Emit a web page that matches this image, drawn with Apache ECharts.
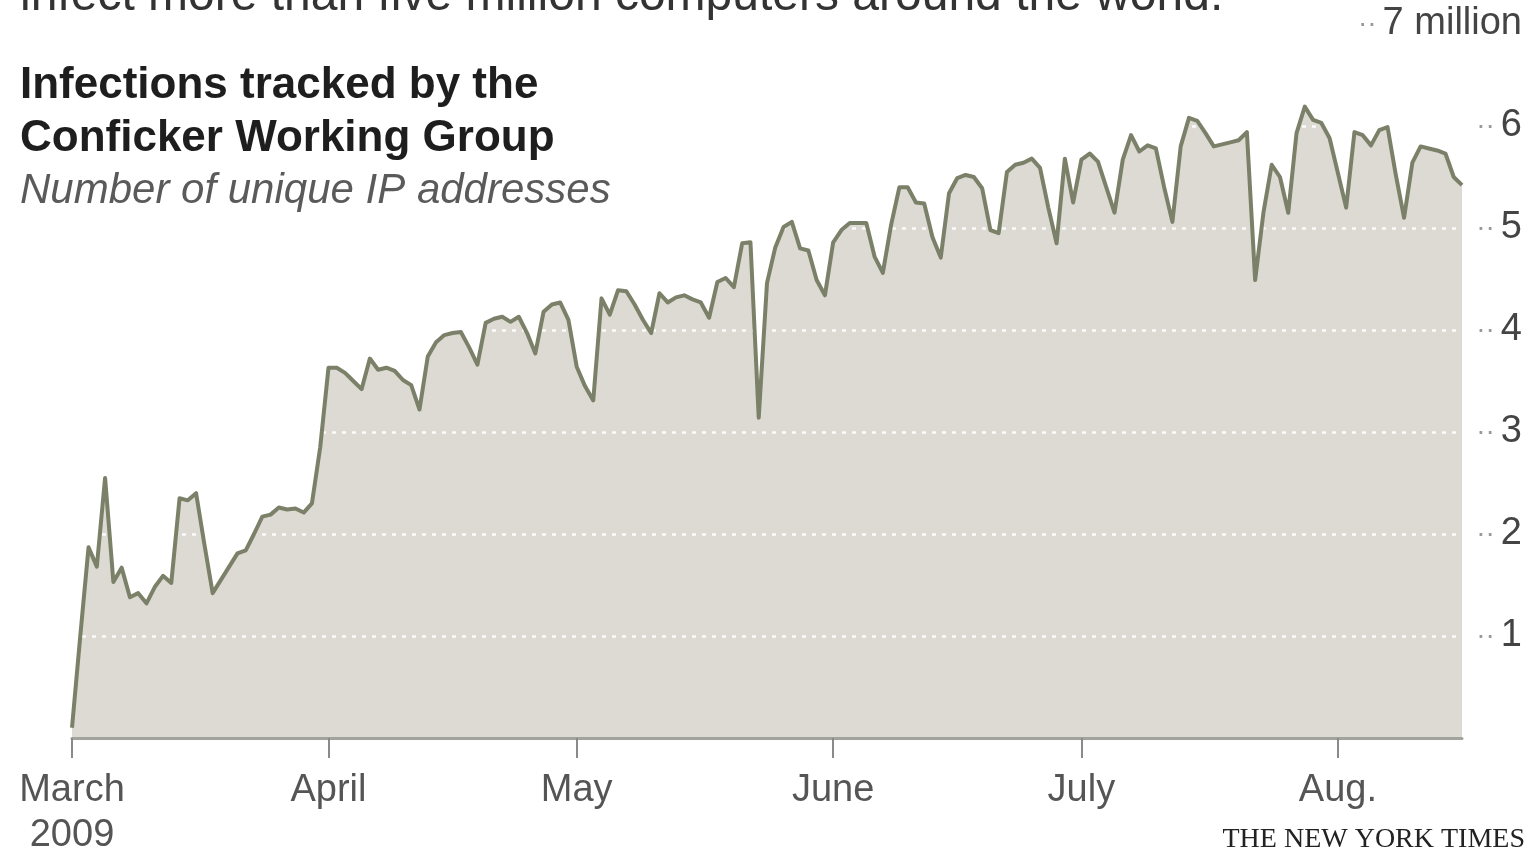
<!DOCTYPE html>
<html><head><meta charset="utf-8">
<script src="https://cdn.jsdelivr.net/npm/echarts@6/dist/echarts.min.js"></script>
<style>html,body{margin:0;padding:0;background:#fff}#c{width:1531px;height:855px}</style>
</head><body><div id="c"></div>
<script>
// Daily infections (millions of unique IP addresses), Mar 1 – Aug 16, 2009
const infections = [
  0.10,1.00,1.87,1.68,2.55,1.53,1.67,1.38,1.42,1.32,
  1.48,1.59,1.52,2.35,2.33,2.40,1.90,1.42,1.55,1.68,
  1.81,1.84,2.00,2.17,2.19,2.26,2.24,2.25,2.21,2.30,
  2.85,3.63,3.63,3.58,3.50,3.42,3.72,3.61,3.63,3.60,
  3.51,3.46,3.22,3.74,3.88,3.95,3.97,3.98,3.83,3.66,
  4.07,4.11,4.13,4.08,4.13,3.97,3.77,4.18,4.25,4.27,
  4.10,3.64,3.45,3.31,4.31,4.15,4.39,4.38,4.25,4.10,
  3.97,4.36,4.27,4.32,4.34,4.30,4.27,4.12,4.47,4.51,
  4.42,4.85,4.86,3.14,4.46,4.81,5.01,5.06,4.80,4.78,
  4.49,4.34,4.86,4.98,5.05,5.05,5.05,4.72,4.56,5.03,
  5.40,5.40,5.25,5.24,4.91,4.71,5.34,5.49,5.52,5.50,
  5.39,4.98,4.95,5.55,5.62,5.64,5.68,5.59,5.20,4.85,
  5.68,5.25,5.67,5.73,5.65,5.40,5.15,5.67,5.91,5.75,
  5.81,5.78,5.40,5.06,5.80,6.08,6.05,5.93,5.80,5.82,
  5.84,5.86,5.94,4.49,5.15,5.62,5.50,5.15,5.93,6.19,
  6.06,6.03,5.88,5.54,5.20,5.94,5.91,5.81,5.96,5.99,
  5.52,5.10,5.64,5.80,5.78,5.76,5.73,5.50,5.42
];
const monthStartDays = [0, 31, 61, 92, 122, 153];
const monthLabels = ['March\n2009', 'April', 'May', 'June', 'July', 'Aug.'];
const yTickLabels = ['', '1', '2', '3', '4', '5', '6', '7 million'];
const titleLines = ['Infections tracked by the', 'Conficker Working Group'];
const subtitle = 'Number of unique IP addresses';
const credit = 'THE NEW YORK TIMES';
const headlineFragment = 'infect more than five million computers around the world.';

const categories = infections.map((_, i) => {
  const d = new Date(2009, 2, 1 + i);
  return (d.getMonth() + 1) + '/' + d.getDate() + '/2009';
});

const FONT = '"Liberation Sans", Arial, Helvetica, sans-serif';
const chart = echarts.init(document.getElementById('c'));
chart.setOption({
  animation: false,
  backgroundColor: '#ffffff',
  grid: { left: 72, right: 69, top: 24, bottom: 117, containLabel: false, outerBoundsMode: 'none' },
  xAxis: {
    type: 'category',
    data: categories,
    boundaryGap: false,
    z: 3,
    axisLine: { show: true, lineStyle: { color: '#a2a29e', width: 3 } },
    axisTick: {
      show: true,
      interval: (idx) => monthStartDays.includes(idx),
      length: 20,
      lineStyle: { color: '#8a8a88', width: 2 }
    },
    axisLabel: {
      interval: (idx) => monthStartDays.includes(idx),
      formatter: (v, idx) => {
        const k = monthStartDays.indexOf(idx);
        return k >= 0 ? monthLabels[k] : '';
      },
      margin: 30,
      color: '#555',
      fontSize: 38,
      lineHeight: 45,
      fontFamily: FONT
    },
    splitLine: { show: false }
  },
  yAxis: {
    type: 'value',
    position: 'right',
    min: 0, max: 7, interval: 1,
    z: 3,
    axisLine: { show: false },
    axisTick: { show: false },
    splitLine: { show: true, lineStyle: { color: '#ffffff', width: 2.5, type: [4, 6], opacity: 0.9 } },
    axisLabel: {
      align: 'right',
      margin: 60,
      formatter: (v) => {
        const t = yTickLabels[v];
        return t ? '{d|··}{n|' + t + '}' : '';
      },
      rich: {
        d: { color: '#999999', fontSize: 28, padding: [0, 6, 0, 0], fontFamily: FONT, verticalAlign: 'middle' },
        n: { color: '#444', fontSize: 38, fontFamily: FONT }
      }
    }
  },
  series: [
    {
      type: 'line',
      data: infections,
      z: 2,
      showSymbol: false,
      symbol: 'none',
      lineStyle: { width: 0 },
      areaStyle: { color: '#dddad4', opacity: 1 },
      silent: true
    },
    {
      type: 'line',
      data: infections,
      z: 5,
      showSymbol: false,
      symbol: 'none',
      lineStyle: { color: '#7b8068', width: 4, join: 'round' },
      silent: true
    }
  ],
  graphic: [
    { type: 'text', z: 20, x: 20, y: -3, style: { text: headlineFragment, fill: '#333', font: '48px ' + FONT, verticalAlign: 'middle', align: 'left' } },
    { type: 'text', z: 20, x: 20, y: 86, style: { text: titleLines[0], fill: '#1e1e1e', font: 'bold 44px ' + FONT, verticalAlign: 'middle', align: 'left' } },
    { type: 'text', z: 20, x: 20, y: 139, style: { text: titleLines[1], fill: '#1e1e1e', font: 'bold 44px ' + FONT, verticalAlign: 'middle', align: 'left' } },
    { type: 'text', z: 20, x: 20, y: 191, style: { text: subtitle, fill: '#5a5a5a', font: 'italic 42px ' + FONT, verticalAlign: 'middle', align: 'left' } },
    { type: 'text', z: 20, x: 1525, y: 840, style: { text: credit, fill: '#222', font: '28px "Liberation Serif", "Times New Roman", serif', verticalAlign: 'middle', align: 'right' } }
  ]
});
</script>
</body></html>
